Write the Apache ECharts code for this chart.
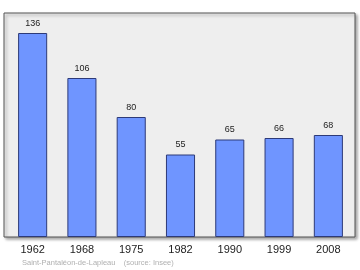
<!DOCTYPE html>
<html><head><meta charset="utf-8">
<script src="https://cdn.jsdelivr.net/npm/echarts@6/dist/echarts.min.js"></script>
<style>html,body{margin:0;padding:0;background:#fff}#c{width:360px;height:270px}</style>
</head><body><div id="c"></div>
<script>
const categories = ['1962','1968','1975','1982','1990','1999','2008'];
const population = [136, 106, 80, 55, 65, 66, 68];
const footer = 'Saint-Pantaléon-de-Lapleau    (source: Insee)';

const chart = echarts.init(document.getElementById('c'), null, {renderer:'canvas'});
chart.setOption({
  animation:false,
  title:{text:footer,left:17,top:254,textStyle:{fontSize:7.5,fontWeight:'normal',color:'#b0b0b0',fontFamily:'Liberation Sans'}},
  grid:[
    {left:4,right:5,top:13,bottom:33,show:true,backgroundColor:'#eeeeee',borderColor:'#555',borderWidth:1,
     shadowColor:'rgba(0,0,0,0.35)',shadowBlur:3,shadowOffsetX:2,shadowOffsetY:2},
    {left:8,right:7,top:12,bottom:33}
  ],
  xAxis:[
    {gridIndex:0,type:'value',show:false},
    {gridIndex:1,type:'category',data:categories,axisTick:{show:false},axisLine:{show:false},
     axisLabel:{fontSize:11,color:'#222',margin:7,fontFamily:'Liberation Sans'}}
  ],
  yAxis:[
    {gridIndex:0,type:'value',show:false,splitLine:{show:false}},
    {gridIndex:1,type:'value',min:0,max:150,show:false,splitLine:{show:false}}
  ],
  series:[{type:'bar',xAxisIndex:1,yAxisIndex:1,data:population,barWidth:'59%',
    itemStyle:{color:'#6f95ff',borderColor:'#2d3a78',borderWidth:1},
    label:{show:true,position:'top',distance:5,fontSize:9,color:'#222',fontFamily:'Liberation Sans'}}]
});
</script></body></html>
